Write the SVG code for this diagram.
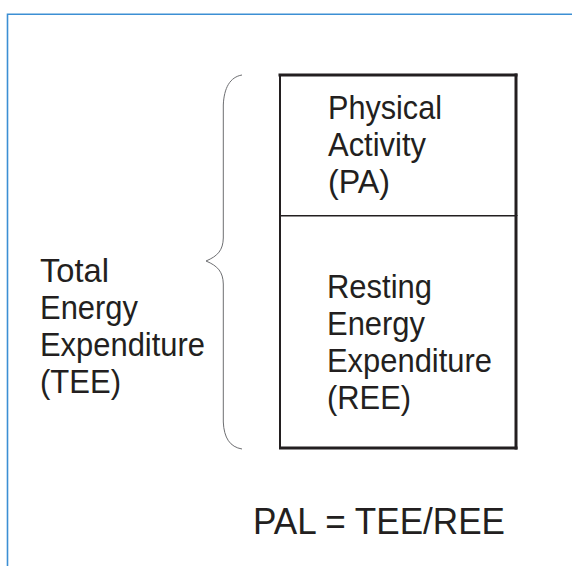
<svg xmlns="http://www.w3.org/2000/svg" width="572" height="566" viewBox="0 0 572 566">
<style>
.t{font-family:"Liberation Sans",Arial,sans-serif;font-size:32.5px;fill:#231f20}
.b{stroke:#231f20;fill:none}
</style>
<rect width="572" height="566" fill="#fff"/>
<g id="frame" stroke="#3c8fd4" stroke-width="1.6" fill="none">
<path d="M7.5 566V14.2H572"/>
</g>
<g id="pa">
<line class="b" x1="280" y1="75" x2="280" y2="216" stroke-width="2"/>
<line class="b" x1="278.5" y1="75" x2="517.5" y2="75" stroke-width="3"/>
<line class="b" x1="516" y1="73.5" x2="516" y2="216" stroke-width="3"/>
<text class="t" lengthAdjust="spacingAndGlyphs"><tspan x="328" y="119" textLength="114" lengthAdjust="spacingAndGlyphs">Physical</tspan><tspan x="328" y="156" textLength="98" lengthAdjust="spacingAndGlyphs">Activity</tspan><tspan x="328" y="193" textLength="62" lengthAdjust="spacingAndGlyphs">(PA)</tspan></text>
</g>
<g id="ree">
<line class="b" x1="279" y1="215.7" x2="516" y2="215.7" stroke-width="1.6"/>
<line class="b" x1="280" y1="215" x2="280" y2="449" stroke-width="2"/>
<line class="b" x1="516" y1="215" x2="516" y2="449.5" stroke-width="3"/>
<line class="b" x1="279" y1="448" x2="517.5" y2="448" stroke-width="3"/>
<text class="t"><tspan x="327" y="298" textLength="105" lengthAdjust="spacingAndGlyphs">Resting</tspan><tspan x="327" y="335" textLength="98" lengthAdjust="spacingAndGlyphs">Energy</tspan><tspan x="327" y="372" textLength="165" lengthAdjust="spacingAndGlyphs">Expenditure</tspan><tspan x="327" y="409" textLength="84" lengthAdjust="spacingAndGlyphs">(REE)</tspan></text>
</g>
<g id="connectors">
<path d="M242 75C230 77 224 88 223.3 105V238C223 250 218 256 206 261C218 266 223 272 223.3 284V422C224 438 230 447 242 449" fill="none" stroke="#6d6e71" stroke-width="1"/>
</g>
<g id="tee">
<text class="t"><tspan x="40" y="282" textLength="69" lengthAdjust="spacingAndGlyphs">Total</tspan><tspan x="40" y="319" textLength="98" lengthAdjust="spacingAndGlyphs">Energy</tspan><tspan x="40" y="356" textLength="165" lengthAdjust="spacingAndGlyphs">Expenditure</tspan><tspan x="40" y="393" textLength="81" lengthAdjust="spacingAndGlyphs">(TEE)</tspan></text>
</g>
<g id="pal">
<text class="t" x="253" y="534" style="font-size:37px" textLength="252" lengthAdjust="spacingAndGlyphs">PAL = TEE/REE</text>
</g>
</svg>
